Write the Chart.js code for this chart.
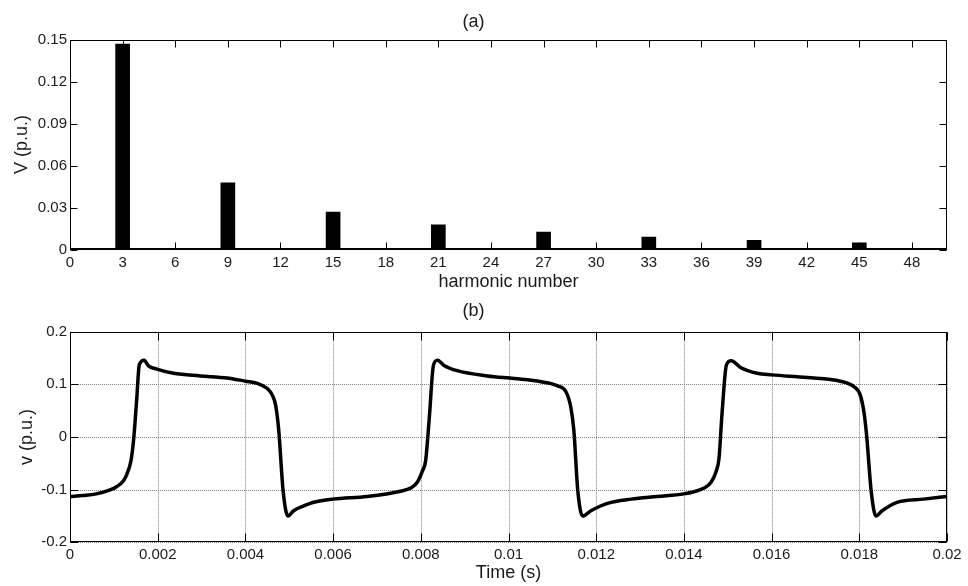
<!DOCTYPE html>
<html>
<head>
<meta charset="utf-8">
<script src="https://cdn.jsdelivr.net/npm/chart.js@4.4.1/dist/chart.umd.min.js"></script>
<style>
  html, body { margin: 0; padding: 0; background: #fff; }
  #wrap { position: relative; width: 968px; height: 586px; }
  .box { position: absolute; left: 0; width: 968px; }
  #boxA { top: 0; height: 295px; }
  #boxB { top: 295px; height: 291px; }
</style>
</head>
<body>
<div id="wrap">
  <div class="box" id="boxA"><canvas id="chartA"></canvas></div>
  <div class="box" id="boxB"><canvas id="chartB"></canvas></div>
</div>
<script>
// (a) harmonic spectrum
const harmonics = [3, 9, 15, 21, 27, 33, 39, 45];
const harmonicV = [0.1468, 0.0476, 0.0267, 0.0176, 0.0124, 0.0088, 0.0066, 0.0047];
const xTicksA = [0, 3, 6, 9, 12, 15, 18, 21, 24, 27, 30, 33, 36, 39, 42, 45, 48];
const yTicksA = [0, 0.03, 0.06, 0.09, 0.12, 0.15];

// (b) voltage waveform
const timeS = [
  0, 0.0003, 0.0006, 0.0009, 0.00107, 0.00122, 0.0013, 0.00139, 0.00145, 0.00152,
  0.00158, 0.00169, 0.00179, 0.00198, 0.00236, 0.00297, 0.00358, 0.004, 0.00427, 0.0045,
  0.00461, 0.00469, 0.00476, 0.00486, 0.00497, 0.0051, 0.00533, 0.00556,
  0.006, 0.00678, 0.00754, 0.00777, 0.00792, 0.00804, 0.00811, 0.00819, 0.00829, 0.00838,
  0.00853, 0.00883, 0.00952, 0.01013, 0.01074, 0.01112, 0.01131, 0.01142, 0.01149, 0.01158,
  0.01169, 0.01188, 0.01226, 0.0128, 0.0134,
  0.014, 0.01423, 0.01446, 0.01462, 0.01474, 0.0148, 0.01487, 0.01497, 0.01508, 0.01529,
  0.01567, 0.016, 0.01681, 0.01757, 0.01787, 0.01802, 0.01811, 0.01817, 0.01827, 0.01838,
  0.01852, 0.01886, 0.01947, 0.02
];
const voltPU = [
  -0.113, -0.111, -0.108, -0.101, -0.094, -0.083, -0.070, -0.045, -0.006, 0.07,
  0.137, 0.146, 0.135, 0.129, 0.121, 0.116, 0.112, 0.106, 0.102, 0.092,
  0.080, 0.060, 0.013, -0.102, -0.150, -0.140, -0.131, -0.124,
  -0.118, -0.113, -0.103, -0.097, -0.086, -0.064, -0.045, 0.032, 0.137, 0.146,
  0.136, 0.126, 0.116, 0.111, 0.105, 0.097, 0.086, 0.057, 0.013, -0.102,
  -0.150, -0.140, -0.126, -0.118, -0.113,
  -0.108, -0.104, -0.097, -0.086, -0.064, -0.041, 0.045, 0.137, 0.145, 0.132,
  0.121, 0.118, 0.113, 0.106, 0.096, 0.080, 0.045, 0, -0.102, -0.150,
  -0.140, -0.124, -0.118, -0.113
];
const xTicksB = [0, 0.002, 0.004, 0.006, 0.008, 0.01, 0.012, 0.014, 0.016, 0.018, 0.02];
const yTicksB = [-0.2, -0.1, 0, 0.1, 0.2];

Chart.defaults.font.family = "'Liberation Sans', Arial, sans-serif";
Chart.defaults.color = "#1a1a1a";

// matlab-like box: frame, inward ticks, optional dotted grid
const matlabAxes = {
  id: "matlabAxes",
  beforeDatasetsDraw(chart, args, opts) {
    if (!opts.grid) return;
    const { ctx, chartArea: a, scales: { x, y } } = chart;
    ctx.save();
    ctx.strokeStyle = "#808080";
    ctx.lineWidth = 1;
    ctx.setLineDash([1, 1]);
    ctx.beginPath();
    x.ticks.forEach((t) => {
      const px = Math.round(x.getPixelForValue(t.value)) + 0.5;
      ctx.moveTo(px, a.top);
      ctx.lineTo(px, a.bottom);
    });
    y.ticks.forEach((t) => {
      const py = Math.round(y.getPixelForValue(t.value)) + 0.5;
      ctx.moveTo(a.left, py);
      ctx.lineTo(a.right, py);
    });
    ctx.stroke();
    ctx.restore();
  },
  afterDatasetsDraw(chart, args, opts) {
    const { ctx, chartArea: a, scales: { x, y } } = chart;
    const L = Math.round(a.left) + 0.5;
    const R = Math.round(a.right) - 0.5;
    const T = Math.round(a.top) + 0.5;
    const B = Math.round(a.bottom) - 0.5;
    const len = opts.tickLen || 7;
    ctx.save();
    ctx.strokeStyle = "#000";
    ctx.lineWidth = 1;
    ctx.setLineDash([]);
    ctx.strokeRect(L, T, R - L, B - T);
    ctx.beginPath();
    x.ticks.forEach((t) => {
      const px = Math.round(x.getPixelForValue(t.value)) + 0.5;
      ctx.moveTo(px, B); ctx.lineTo(px, B - len);
      ctx.moveTo(px, T); ctx.lineTo(px, T + len);
    });
    y.ticks.forEach((t) => {
      const py = Math.round(y.getPixelForValue(t.value)) + 0.5;
      ctx.moveTo(L, py); ctx.lineTo(L + len, py);
      ctx.moveTo(R, py); ctx.lineTo(R - len, py);
    });
    ctx.stroke();
    if (opts.baseWidth) {
      ctx.lineWidth = opts.baseWidth;
      ctx.beginPath();
      ctx.moveTo(L, B - 0.5);
      ctx.lineTo(R, B - 0.5);
      ctx.stroke();
    }
    ctx.restore();
  }
};

const tickFont = { size: 15 };
const titleFont = { size: 18, weight: "normal" };
const noGrid = { display: false, drawTicks: false, tickLength: 0 };

// chart (a)
new Chart(document.getElementById("chartA"), {
  type: "bar",
  data: {
    datasets: [{
      data: harmonics.map((h, i) => ({ x: h, y: harmonicV[i] })),
      backgroundColor: "#000",
      borderWidth: 0,
      barThickness: 14
    }]
  },
  options: {
    responsive: true,
    maintainAspectRatio: false,
    animation: false,
    devicePixelRatio: 1,
    layout: { padding: { left: 0, right: 21, top: 0, bottom: 0 } },
    plugins: {
      legend: { display: false },
      tooltip: { enabled: false },
      title: { display: true, text: "(a)", font: titleFont, color: "#1a1a1a", padding: { top: 11.2, bottom: 6.7 } },
      matlabAxes: { tickLen: 7, baseWidth: 2 }
    },
    scales: {
      x: {
        type: "linear",
        min: 0,
        max: 50,
        offset: false,
        grid: noGrid,
        border: { display: false },
        afterBuildTicks: (s) => { s.ticks = xTicksA.map((v) => ({ value: v })); },
        afterFit: (s) => { s.height = 45.5; },
        ticks: { font: tickFont, padding: 4.5, maxRotation: 0, autoSkip: false, callback: (v) => String(v) },
        title: { display: true, text: "harmonic number", font: titleFont, padding: { top: 0, bottom: 2.2 } }
      },
      y: {
        min: 0,
        max: 0.15,
        grid: noGrid,
        border: { display: false },
        afterBuildTicks: (s) => { s.ticks = yTicksA.map((v) => ({ value: v })); },
        afterFit: (s) => { s.width = 70; },
        ticks: { font: tickFont, padding: 3, callback: (v) => String(v) },
        title: { display: true, text: "V (p.u.)", font: titleFont, padding: { top: 11.7, bottom: 0 } }
      }
    }
  },
  plugins: [matlabAxes]
});

// chart (b)
new Chart(document.getElementById("chartB"), {
  type: "line",
  data: {
    datasets: [{
      data: timeS.map((t, i) => ({ x: t, y: voltPU[i] })),
      borderColor: "#000",
      borderWidth: 3.5,
      pointRadius: 0,
      cubicInterpolationMode: "monotone",
      fill: false
    }]
  },
  options: {
    responsive: true,
    maintainAspectRatio: false,
    animation: false,
    devicePixelRatio: 1,
    layout: { padding: { left: 0, right: 21, top: 0, bottom: 0 } },
    plugins: {
      legend: { display: false },
      tooltip: { enabled: false },
      title: { display: true, text: "(b)", font: titleFont, color: "#1a1a1a", padding: { top: 5.7, bottom: 9.4 } },
      matlabAxes: { tickLen: 8, grid: true }
    },
    scales: {
      x: {
        type: "linear",
        min: 0,
        max: 0.02,
        grid: noGrid,
        border: { display: false },
        afterBuildTicks: (s) => { s.ticks = xTicksB.map((v) => ({ value: v })); },
        afterFit: (s) => { s.height = 43.7; },
        ticks: { font: tickFont, padding: 4, maxRotation: 0, autoSkip: false, callback: (v) => String(v) },
        title: { display: true, text: "Time (s)", font: titleFont, padding: { top: 0, bottom: 1.7 } }
      },
      y: {
        min: -0.2,
        max: 0.2,
        grid: noGrid,
        border: { display: false },
        afterBuildTicks: (s) => { s.ticks = yTicksB.map((v) => ({ value: v })); },
        afterFit: (s) => { s.width = 70; },
        ticks: { font: tickFont, padding: 3, callback: (v) => String(v) },
        title: { display: true, text: "v (p.u.)", font: titleFont, padding: { top: 16.7, bottom: 0 } }
      }
    }
  },
  plugins: [matlabAxes]
});
</script>
</body>
</html>
